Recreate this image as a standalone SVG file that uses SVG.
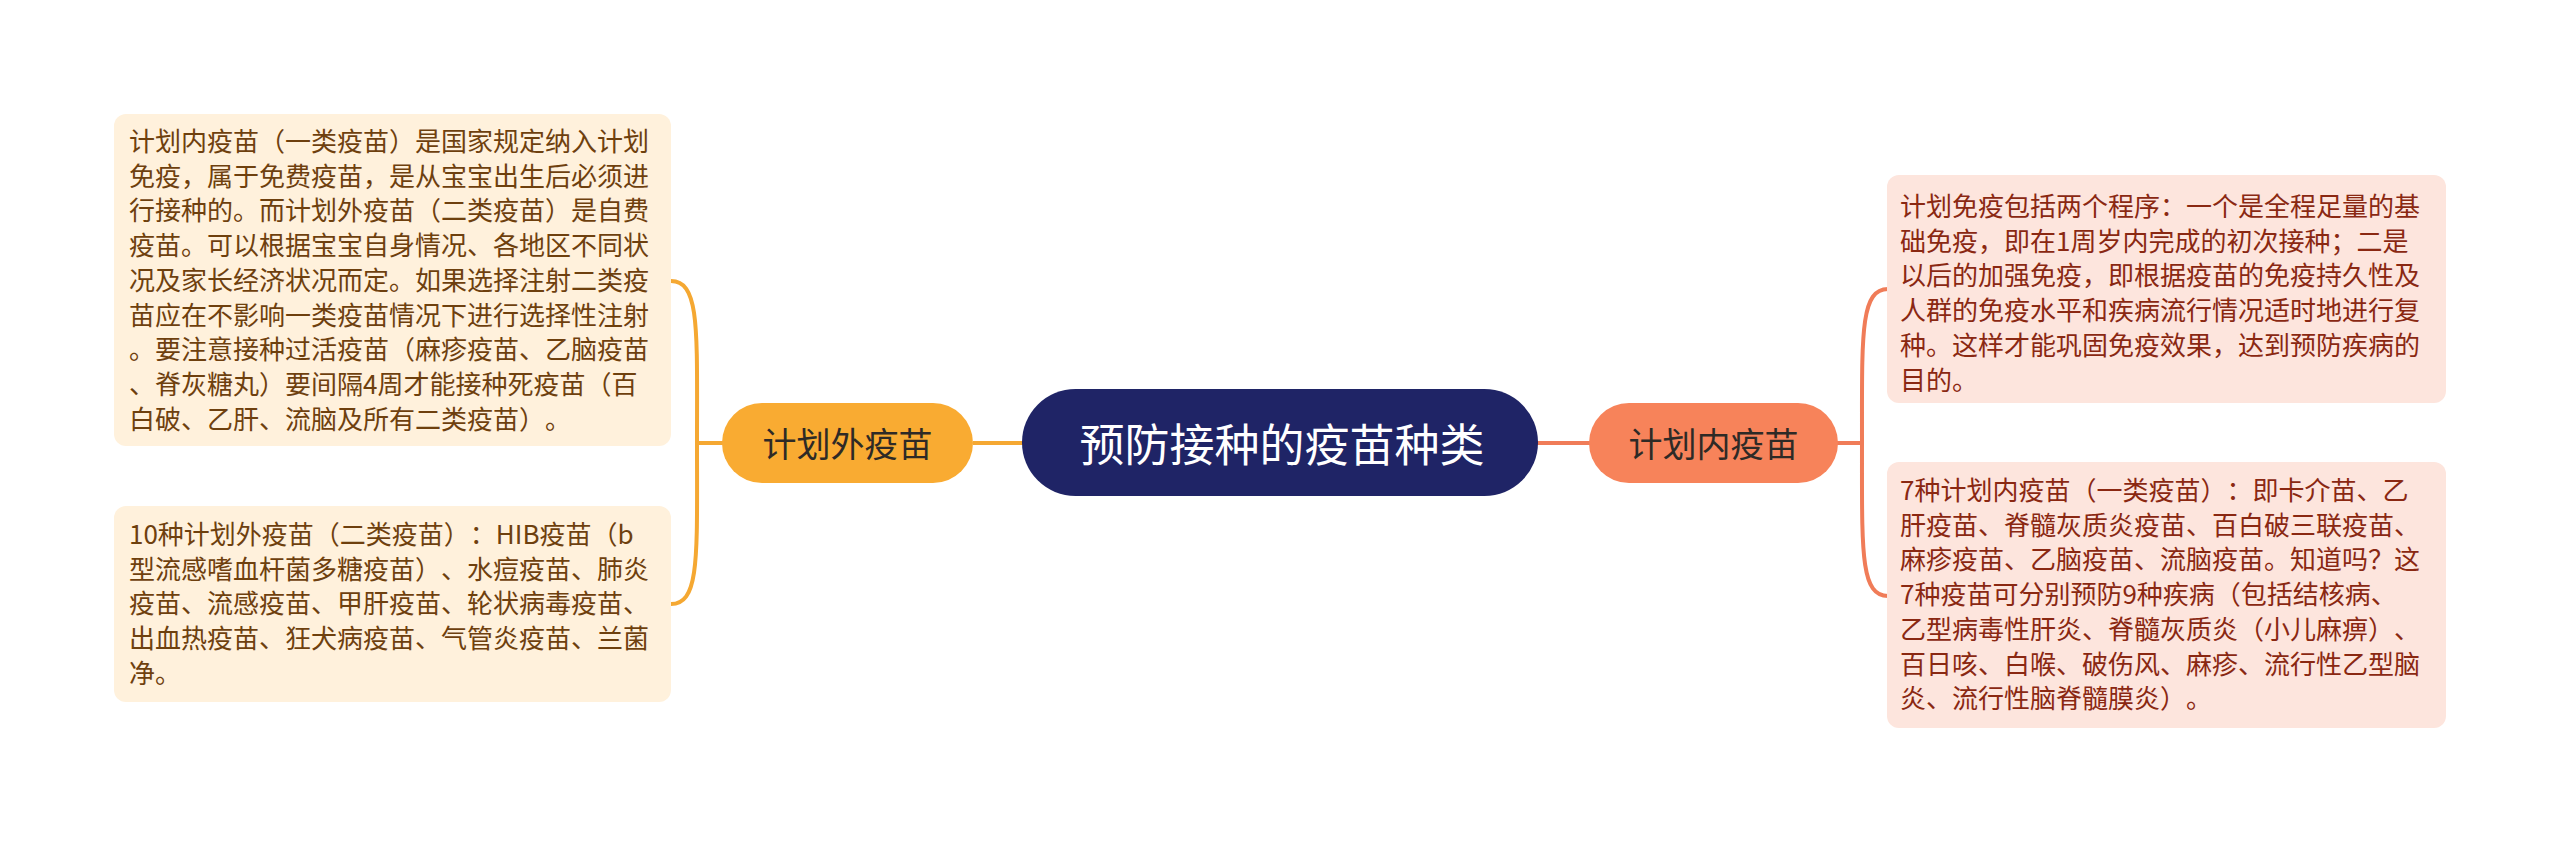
<svg xmlns="http://www.w3.org/2000/svg" width="2560" height="842" viewBox="0 0 2560 842">
<style>
.t{font-family:"Noto Sans CJK SC","Noto Sans",sans-serif;text-spacing-trim:space-all;}
.lbox{fill:#FFF1DC;}
.rbox{fill:#FDE5DD;}
.ltxt{font-size:26px;fill:#6E400E;}
.rtxt{font-size:26px;fill:#8A2812;}
.node{font-size:34px;fill:#2E2A26;text-anchor:middle;dominant-baseline:central;}
.lc{stroke:#F5A832;stroke-width:4;fill:none;}
.rc{stroke:#F07C58;stroke-width:4;fill:none;}
</style>
<rect width="2560" height="842" fill="#FFFFFF"/>
<g id="connectors">
<line class="lc" x1="973" y1="443" x2="1024" y2="443"/>
<line class="lc" x1="697" y1="443" x2="724" y2="443"/>
<path class="lc" d="M671,281 C700,281 697,330 697,443 C697,556 700,604 671,604"/>
<line class="rc" x1="1536" y1="443" x2="1591" y2="443"/>
<line class="rc" x1="1836" y1="443" x2="1862" y2="443"/>
<path class="rc" d="M1888,289 C1860,289 1862,335 1862,443 C1862,551 1860,596 1888,596"/>
</g>
<g id="center">
<rect x="1022" y="389" width="516" height="107" rx="53.5" fill="#1F2466"/>
<text class="t node" x="1282" y="442" style="font-size:45px;fill:#FFFFFF">预防接种的疫苗种类</text>
</g>
<g id="node-left">
<rect x="722" y="403" width="251" height="80" rx="40" fill="#F9AB32"/>
<text class="t node" x="847.5" y="442">计划外疫苗</text>
</g>
<g id="node-right">
<rect x="1589" y="403" width="249" height="80" rx="40" fill="#F7835A"/>
<text class="t node" x="1713.5" y="442">计划内疫苗</text>
</g>
<g id="box-left-1">
<rect class="lbox" x="114" y="114" width="557" height="332" rx="12"/>
<text class="t ltxt" x="129" y="151">
<tspan x="129" dy="0">计划内疫苗（一类疫苗）是国家规定纳入计划</tspan>
<tspan x="129" dy="34.7">免疫，属于免费疫苗，是从宝宝出生后必须进</tspan>
<tspan x="129" dy="34.7">行接种的。而计划外疫苗（二类疫苗）是自费</tspan>
<tspan x="129" dy="34.7">疫苗。可以根据宝宝自身情况、各地区不同状</tspan>
<tspan x="129" dy="34.7">况及家长经济状况而定。如果选择注射二类疫</tspan>
<tspan x="129" dy="34.7">苗应在不影响一类疫苗情况下进行选择性注射</tspan>
<tspan x="129" dy="34.7">。要注意接种过活疫苗（麻疹疫苗、乙脑疫苗</tspan>
<tspan x="129" dy="34.7">、脊灰糖丸）要间隔4周才能接种死疫苗（百</tspan>
<tspan x="129" dy="34.7">白破、乙肝、流脑及所有二类疫苗）。</tspan>
</text>
</g>
<g id="box-left-2">
<rect class="lbox" x="114" y="506" width="557" height="196" rx="12"/>
<text class="t ltxt" x="129" y="544">
<tspan x="129" dy="0">10种计划外疫苗（二类疫苗）：HIB疫苗（b</tspan>
<tspan x="129" dy="34.7">型流感嗜血杆菌多糖疫苗）、水痘疫苗、肺炎</tspan>
<tspan x="129" dy="34.7">疫苗、流感疫苗、甲肝疫苗、轮状病毒疫苗、</tspan>
<tspan x="129" dy="34.7">出血热疫苗、狂犬病疫苗、气管炎疫苗、兰菌</tspan>
<tspan x="129" dy="34.7">净。</tspan>
</text>
</g>
<g id="box-right-1">
<rect class="rbox" x="1887" y="175" width="559" height="228" rx="12"/>
<text class="t rtxt" x="1900" y="216">
<tspan x="1900" dy="0">计划免疫包括两个程序：一个是全程足量的基</tspan>
<tspan x="1900" dy="34.7">础免疫，即在1周岁内完成的初次接种；二是</tspan>
<tspan x="1900" dy="34.7">以后的加强免疫，即根据疫苗的免疫持久性及</tspan>
<tspan x="1900" dy="34.7">人群的免疫水平和疾病流行情况适时地进行复</tspan>
<tspan x="1900" dy="34.7">种。这样才能巩固免疫效果，达到预防疾病的</tspan>
<tspan x="1900" dy="34.7">目的。</tspan>
</text>
</g>
<g id="box-right-2">
<rect class="rbox" x="1887" y="462" width="559" height="266" rx="12"/>
<text class="t rtxt" x="1900" y="500">
<tspan x="1900" dy="0">7种计划内疫苗（一类疫苗）：即卡介苗、乙</tspan>
<tspan x="1900" dy="34.7">肝疫苗、脊髓灰质炎疫苗、百白破三联疫苗、</tspan>
<tspan x="1900" dy="34.7">麻疹疫苗、乙脑疫苗、流脑疫苗。知道吗？这</tspan>
<tspan x="1900" dy="34.7">7种疫苗可分别预防9种疾病（包括结核病、</tspan>
<tspan x="1900" dy="34.7">乙型病毒性肝炎、脊髓灰质炎（小儿麻痹）、</tspan>
<tspan x="1900" dy="34.7">百日咳、白喉、破伤风、麻疹、流行性乙型脑</tspan>
<tspan x="1900" dy="34.7">炎、流行性脑脊髓膜炎）。</tspan>
</text>
</g>
</svg>
